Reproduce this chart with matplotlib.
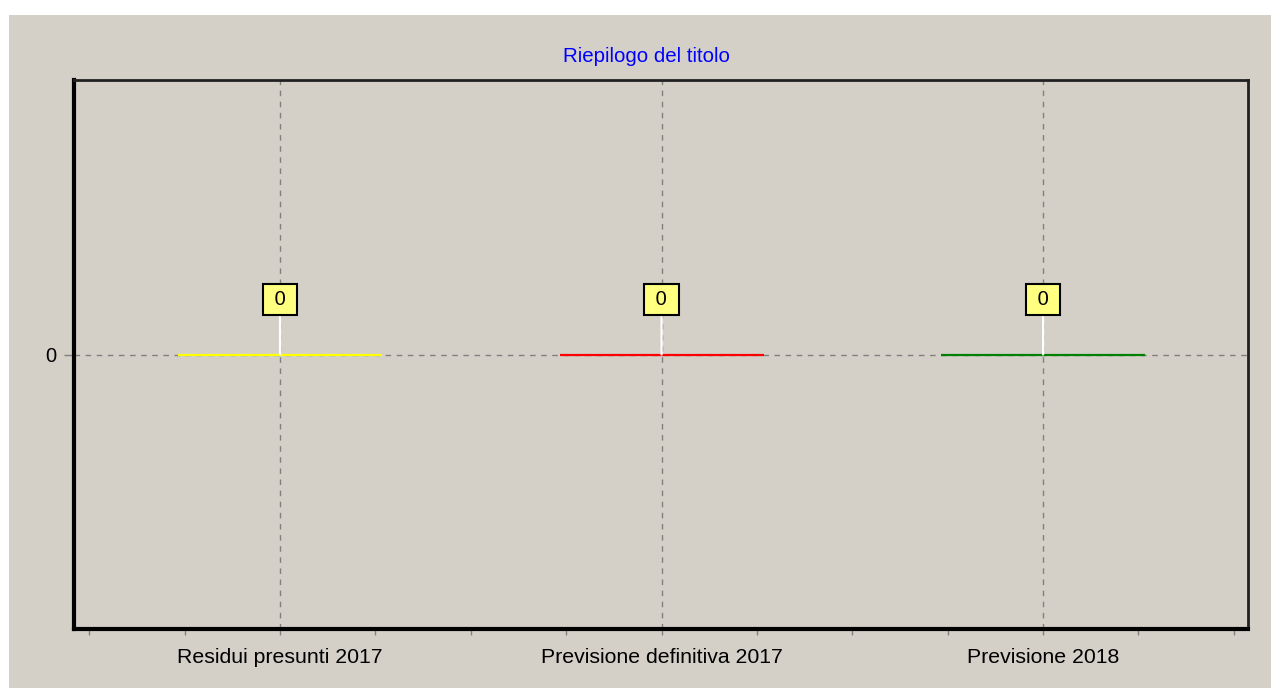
import matplotlib
matplotlib.use("Agg")
import matplotlib.pyplot as plt
from matplotlib.patches import Rectangle
from matplotlib.ticker import MultipleLocator

# data
categories = ["Residui presunti 2017", "Previsione definitiva 2017", "Previsione 2018"]
values = [0, 0, 0]
bar_colors = ["#FFFF00", "#FF0000", "#008000"]
title = "Riepilogo del titolo"

BG = "#D4D0C8"
plt.rcParams["font.family"] = ["Liberation Sans", "DejaVu Sans"]

fig = plt.figure(figsize=(12.71, 6.88), dpi=100)
fig.patch.set_facecolor("white")
# gray panel with a thin white margin at top/left
fig.patches.append(Rectangle((9 / 1271, 0), 1, (688 - 15) / 688,
                             transform=fig.transFigure, facecolor=BG,
                             edgecolor="none", zorder=-10))

ax = fig.add_axes([74 / 1271, 1 - 629 / 688, (1248 - 74) / 1271, (629 - 80) / 688])
ax.set_facecolor(BG)

x = list(range(len(categories)))
ax.bar(x, values, width=0.535, color=bar_colors, edgecolor=bar_colors,
       linewidth=1.6, zorder=3)

# value labels: yellow box joined to the bar by a white stem
for xi, v in zip(x, values):
    ax.annotate(f" {v} ", xy=(xi, v), xytext=(0, 55), textcoords="offset pixels",
                ha="center", va="center", fontsize=14.5, zorder=5,
                bbox=dict(boxstyle="square,pad=0.3", facecolor="#FFFF80",
                          edgecolor="black", linewidth=1.5),
                arrowprops=dict(arrowstyle="-", color="white", lw=1.6,
                                shrinkA=0, shrinkB=0))

ax.set_xlim(-0.54, 2.537)
ax.set_ylim(-1, 1)
ax.set_xticks(x)
ax.set_xticklabels(categories, fontsize=15.3)
ax.xaxis.set_minor_locator(MultipleLocator(0.25))
ax.set_yticks([0])
ax.set_yticklabels(["0"], fontsize=14.5)

ax.tick_params(axis="x", which="both", length=4, width=1, color="#808080",
               pad=10)
ax.tick_params(axis="y", which="major", length=7, width=1, color="#808080",
               pad=6)

ax.grid(True, which="major", color="#808080", linestyle=(0, (4, 4)),
        linewidth=1, zorder=1)
ax.set_axisbelow(True)

for side in ("left", "bottom"):
    ax.spines[side].set_linewidth(3)
    ax.spines[side].set_color("black")
for side in ("top", "right"):
    ax.spines[side].set_linewidth(2)
    ax.spines[side].set_color("#202020")

fig.text(646 / 1271, 1 - 57 / 688, title, color="#0000FF", fontsize=14.8,
         ha="center", va="center")

fig.savefig("out.png", dpi=100, facecolor=fig.get_facecolor())
